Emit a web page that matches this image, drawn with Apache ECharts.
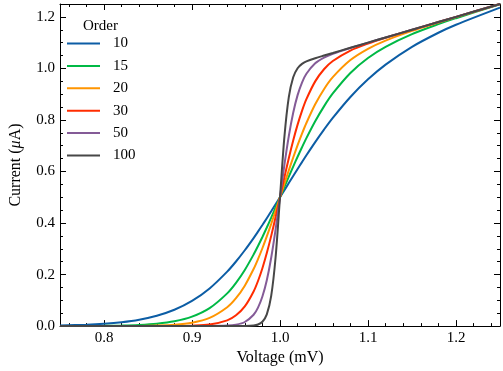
<!DOCTYPE html>
<html><head><meta charset="utf-8">
<script src="https://cdn.jsdelivr.net/npm/echarts@6/dist/echarts.min.js"></script>
<style>html,body{margin:0;padding:0;background:#fff}#c{width:503px;height:371px}</style>
</head><body><div id="c"></div>
<script>
const voltage = [0.75,0.78,0.80,0.82,0.84,0.86,0.88,0.90,0.92,0.94,0.95,0.96,0.97,0.975,0.98,0.985,0.99,0.995,1.00,1.005,1.01,1.015,1.02,1.025,1.03,1.04,1.05,1.06,1.08,1.10,1.12,1.15,1.18,1.20,1.25];
const order10 = [0.0024,0.0054,0.0091,0.0152,0.0249,0.0402,0.0633,0.0976,0.1461,0.2114,0.2507,0.2943,0.3417,0.3667,0.3923,0.4186,0.4454,0.4726,0.5,0.5275,0.5551,0.5825,0.6097,0.6365,0.6630,0.7141,0.7626,0.8081,0.8892,0.9577,1.0148,1.0838,1.1384,1.1695,1.2358];
const order15 = [0.0001,0.0005,0.0010,0.0021,0.0045,0.0092,0.0186,0.0366,0.0697,0.1270,0.1679,0.2180,0.2777,0.3108,0.3459,0.3827,0.4209,0.4602,0.5,0.5400,0.5798,0.6190,0.6572,0.6941,0.7295,0.7949,0.8527,0.9028,0.9824,1.0404,1.0838,1.1329,1.1718,1.1950,1.2485];
const order20 = [0,0,0.0001,0.0003,0.0008,0.0021,0.0053,0.0131,0.0316,0.0730,0.1082,0.1569,0.2214,0.2598,0.3021,0.3480,0.3968,0.4478,0.5,0.5525,0.6042,0.6544,0.7021,0.7469,0.7883,0.8607,0.9194,0.9661,1.0325,1.0762,1.1081,1.1457,1.1784,1.1992,1.2498];
const order30 = [0,0,0,0,0,0.0001,0.0004,0.0016,0.0061,0.0224,0.0419,0.0763,0.1344,0.1751,0.2247,0.2833,0.3501,0.4232,0.5,0.5772,0.6515,0.7202,0.7818,0.8352,0.8805,0.9497,0.9967,1.0288,1.0694,1.0964,1.1188,1.1497,1.1800,1.2000,1.2500];
const order50 = [0,0,0,0,0,0,0,0,0.0002,0.0019,0.0056,0.0159,0.0440,0.0718,0.1147,0.1780,0.2653,0.3754,0.5,0.6253,0.7374,0.8282,0.8963,0.9450,0.9791,1.0198,1.0421,1.0569,1.0795,1.1000,1.1200,1.1500,1.1800,1.2000,1.2500];
const order100 = [0,0,0,0,0,0,0,0,0,0,0,0.0003,0.0022,0.0061,0.0169,0.0457,0.1170,0.2671,0.5,0.7342,0.8885,0.9658,1.0009,1.0177,1.0272,1.0396,1.0500,1.0600,1.0800,1.1000,1.1200,1.1500,1.1800,1.2000,1.2500];
const orderNames = ['10','15','20','30','50','100'];
const xMajor = [0.8,0.9,1.0,1.1,1.2];
const xMinor = [0.76,0.78,0.82,0.84,0.86,0.88,0.92,0.94,0.96,0.98,1.02,1.04,1.06,1.08,1.12,1.14,1.16,1.18,1.22,1.24];
const yMajor = [0,0.2,0.4,0.6,0.8,1.0,1.2];
const yMinor = [0.05,0.1,0.15,0.25,0.3,0.35,0.45,0.5,0.55,0.65,0.7,0.75,0.85,0.9,0.95,1.05,1.1,1.15];

const allSeries = [order10, order15, order20, order30, order50, order100];
const colors = ['#0C5DA5','#00B945','#FF9500','#FF2C00','#845B97','#474747'];
const FONT = 'Liberation Serif';
const black = '#000';

function axis(kind, pos, vals, len, showLine, showLabel, extra) {
  const a = {
    type: 'value',
    position: pos,
    min: kind === 'x' ? 0.75 : 0,
    max: 1.25,
    axisLine: { show: showLine, onZero: false, lineStyle: { color: black, width: 1 } },
    axisTick: { show: true, inside: true, length: len, customValues: vals, lineStyle: { color: black, width: 1 } },
    axisLabel: { show: showLabel, customValues: kind === 'x' ? xMajor : yMajor, formatter: v => Number(v).toFixed(1),
      color: black, fontFamily: FONT, fontSize: 15, margin: kind === 'x' ? 4 : 5 },
    splitLine: { show: false },
    minorTick: { show: false }
  };
  return Object.assign(a, extra || {});
}

const option = {
  animation: false,
  backgroundColor: '#fff',
  grid: { left: 53, right: 3, top: 4, bottom: 43, containLabel: false },
  xAxis: [
    axis('x', 'bottom', xMajor, 6, true, true, {
      name: 'Voltage (mV)', nameLocation: 'middle', nameGap: 22,
      nameTextStyle: { color: black, fontFamily: FONT, fontSize: 16 }
    }),
    axis('x', 'bottom', xMinor, 3, false, false),
    axis('x', 'top', xMajor, 6, true, false),
    axis('x', 'top', xMinor, 3, false, false)
  ],
  yAxis: [
    axis('y', 'left', yMajor, 6, true, true, {
      name: 'Current ({i|μ}A)', nameLocation: 'middle', nameGap: 36,
      nameTextStyle: { color: black, fontFamily: FONT, fontSize: 16,
        rich: { i: { fontStyle: 'italic', fontFamily: FONT, fontSize: 16, color: black } } }
    }),
    axis('y', 'left', yMinor, 3, false, false),
    axis('y', 'right', yMajor, 6, true, false),
    axis('y', 'right', yMinor, 3, false, false)
  ],
  legend: {
    orient: 'vertical', left: 67, top: 36, padding: 0,
    icon: 'rect',
    itemWidth: 33, itemHeight: 2, itemGap: 7.4,
    textStyle: { color: black, fontFamily: FONT, fontSize: 15, lineHeight: 14, padding: [0, 0, 0, 8] },
    data: orderNames
  },
  graphic: [{
    type: 'text', left: 83, top: 18.5,
    style: { text: 'Order', font: '15px "Liberation Serif"', fill: black }
  }],
  series: allSeries.map((arr, k) => ({
    type: 'line',
    name: orderNames[k],
    xAxisIndex: 0, yAxisIndex: 0,
    data: voltage.map((v, i) => [v, arr[i]]),
    symbol: 'none',
    smooth: 0.3,
    lineStyle: { width: 2, color: colors[k] },
    itemStyle: { color: colors[k] }
  }))
};

const chart = echarts.init(document.getElementById('c'), null, { renderer: 'canvas' });
chart.setOption(option);
</script>
</body></html>
